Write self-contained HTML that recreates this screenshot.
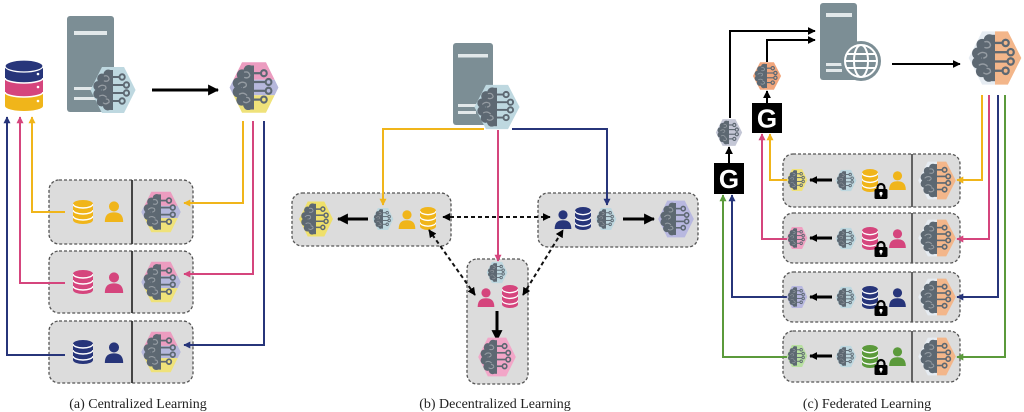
<!DOCTYPE html>
<html><head><meta charset="utf-8"><style>
html,body{margin:0;padding:0;background:#fff;}
svg{display:block;}
</style></head><body>
<svg width="1024" height="412" viewBox="0 0 1024 412" xmlns="http://www.w3.org/2000/svg" xmlns:xlink="http://www.w3.org/1999/xlink">
<defs>
<symbol id="fg" viewBox="0 0 100 100">
<g fill="#5d6872">
<circle cx="40" cy="19" r="10"/><circle cx="27" cy="27" r="10"/><circle cx="19" cy="42" r="10"/>
<circle cx="19" cy="58" r="10"/><circle cx="26" cy="73" r="10"/><circle cx="39" cy="81" r="10"/>
<rect x="26" y="20" width="24" height="62"/><rect x="44" y="10" width="6" height="80"/>
</g>
<g fill="none" stroke="#fff" stroke-opacity="0.35" stroke-width="2.5" stroke-linecap="round">
<path d="M32,22 q8,-2 10,6 q-2,6 -10,4"/><path d="M20,44 q6,-6 14,-2 q4,6 -4,8"/>
<path d="M22,62 q8,-4 14,2"/><path d="M30,76 q6,4 12,-2 q0,-6 -6,-6"/>
</g>
<g fill="none" stroke="#5d6872" stroke-width="4">
<path d="M50,24 H63"/><circle cx="69" cy="24" r="5.5"/>
<path d="M50,40 H72"/><circle cx="78" cy="40" r="5.5"/>
<path d="M50,56 H72"/><circle cx="78" cy="56" r="5.5"/>
<path d="M50,72 H63"/><circle cx="69" cy="72" r="5.5"/>
</g>
</symbol>
<symbol id="person" viewBox="0 0 24 24">
<circle cx="12" cy="7" r="5.5" fill="currentColor"/>
<path d="M2,24 C2,16 6,13.5 12,13.5 C18,13.5 22,16 22,24 Z" fill="currentColor"/>
</symbol>
<symbol id="db" viewBox="0 0 20 24" preserveAspectRatio="none">
<ellipse cx="10" cy="4" rx="10" ry="4" fill="currentColor"/>
<rect x="0" y="4" width="20" height="16" fill="currentColor"/>
<ellipse cx="10" cy="20" rx="10" ry="4" fill="currentColor"/>
<g fill="none" stroke="#fff" stroke-width="1.4">
<path d="M0,4 A10,4 0 0 0 20,4"/><path d="M0,10 A10,4 0 0 0 20,10"/><path d="M0,16 A10,4 0 0 0 20,16"/>
</g>
</symbol>
<symbol id="lock" viewBox="0 0 14 17">
<path d="M3.5,8 V5.5 A3.5,3.5 0 0 1 10.5,5.5 V8" fill="none" stroke="#000" stroke-width="2.2"/>
<rect x="0.5" y="7" width="13" height="10" rx="1.5" fill="#000"/>
<circle cx="7" cy="11.5" r="1.6" fill="#fff"/><rect x="6.3" y="11.5" width="1.4" height="3" fill="#fff"/>
</symbol>
<marker id="mN" viewBox="0 0 10 10" refX="9" refY="5" markerWidth="7" markerHeight="7" markerUnits="userSpaceOnUse" orient="auto-start-reverse"><path d="M0,0 L10,5 L0,10 Z" fill="#27357a"/></marker>
<marker id="mP" viewBox="0 0 10 10" refX="9" refY="5" markerWidth="7" markerHeight="7" markerUnits="userSpaceOnUse" orient="auto-start-reverse"><path d="M0,0 L10,5 L0,10 Z" fill="#d5457d"/></marker>
<marker id="mY" viewBox="0 0 10 10" refX="9" refY="5" markerWidth="7" markerHeight="7" markerUnits="userSpaceOnUse" orient="auto-start-reverse"><path d="M0,0 L10,5 L0,10 Z" fill="#f0b51a"/></marker>
<marker id="mG" viewBox="0 0 10 10" refX="9" refY="5" markerWidth="7" markerHeight="7" markerUnits="userSpaceOnUse" orient="auto-start-reverse"><path d="M0,0 L10,5 L0,10 Z" fill="#5b9a3b"/></marker>
<marker id="mK" viewBox="0 0 10 10" refX="9" refY="5" markerWidth="8" markerHeight="8" markerUnits="userSpaceOnUse" orient="auto-start-reverse"><path d="M0,0 L10,5 L0,10 Z" fill="#000"/></marker>
<marker id="mKb" viewBox="0 0 10 10" refX="9" refY="5" markerWidth="11" markerHeight="11" markerUnits="userSpaceOnUse" orient="auto-start-reverse"><path d="M0,0 L10,5 L0,10 Z" fill="#000"/></marker>
</defs>

<!-- ============ (a) Centralized ============ -->
<g>
<path d="M5,93 V106 A19,5 0 0 0 43,106 V93 Z" fill="#f0b51a"/>
<ellipse cx="24" cy="92" rx="19" ry="5" fill="#d5457d" stroke="#fff" stroke-width="1.5"/>
<rect x="5" y="78" width="38" height="14" fill="#d5457d"/>
<ellipse cx="24" cy="78" rx="19" ry="5" fill="#27357a" stroke="#fff" stroke-width="1.5"/>
<rect x="5" y="66" width="38" height="12" fill="#27357a"/>
<ellipse cx="24" cy="66" rx="19" ry="6" fill="#27357a" stroke="#fff" stroke-width="1.2"/>
<circle cx="38" cy="74" r="1.3" fill="#fff"/><circle cx="38" cy="87" r="1.3" fill="#fff"/><circle cx="38" cy="101" r="1.3" fill="#fff"/>
</g>
<rect x="67" y="16" width="47" height="96" rx="3" fill="#7c8e95"/>
<rect x="74" y="31" width="33" height="4" fill="#e2e8ea"/>
<rect x="74" y="87" width="22" height="3" fill="#e2e8ea"/>
<rect x="74" y="97" width="22" height="3" fill="#e2e8ea"/>
<svg x="89" y="65" width="48" height="50" viewBox="0 0 100 100" preserveAspectRatio="none"><polygon points="27,4 73,4 97,50 73,96 27,96 3,50" fill="#bed8e0"/><use xlink:href="#fg" width="100" height="100"/></svg>
<path d="M152,90 H218" stroke="#000" stroke-width="3" marker-end="url(#mKb)"/>
<svg x="228" y="60" width="52" height="55" viewBox="0 0 100 100" preserveAspectRatio="none">
<polygon points="27,4 73,4 89.7,36 10.3,36" fill="#ec9cc0"/>
<polygon points="10.3,36 89.7,36 97,50 89.7,64 10.3,64 3,50" fill="#b6b8dc"/>
<polygon points="10.3,64 89.7,64 73,96 27,96" fill="#efe27a"/>
<use xlink:href="#fg" width="100" height="100"/></svg>

<g fill="#dcdcdc" stroke="#555" stroke-width="1.3" stroke-dasharray="3,2">
<rect x="49" y="180" width="144" height="64" rx="10"/>
<rect x="49" y="251" width="144" height="62" rx="10"/>
<rect x="49" y="321" width="144" height="62" rx="10"/>
</g>
<g stroke="#333" stroke-width="1.8">
<line x1="132" y1="180" x2="132" y2="244"/><line x1="132" y1="251" x2="132" y2="313"/><line x1="132" y1="321" x2="132" y2="383"/>
</g>
<use xlink:href="#db" x="73" y="200" width="20" height="24" style="color:#f0b51a"/>
<use xlink:href="#person" x="103" y="199" width="22" height="24" style="color:#f0b51a"/>
<use xlink:href="#db" x="73" y="270" width="20" height="24" style="color:#d5457d"/>
<use xlink:href="#person" x="103" y="270" width="22" height="24" style="color:#d5457d"/>
<use xlink:href="#db" x="73" y="340" width="20" height="24" style="color:#27357a"/>
<use xlink:href="#person" x="103" y="340" width="22" height="24" style="color:#27357a"/>
<g>
<svg x="140" y="190" width="42" height="44" viewBox="0 0 100 100" preserveAspectRatio="none"><polygon points="27,4 73,4 89.7,36 10.3,36" fill="#ec9cc0"/><polygon points="10.3,36 89.7,36 97,50 89.7,64 10.3,64 3,50" fill="#b6b8dc"/><polygon points="10.3,64 89.7,64 73,96 27,96" fill="#efe27a"/><use xlink:href="#fg" width="100" height="100"/></svg>
<svg x="140" y="260" width="42" height="44" viewBox="0 0 100 100" preserveAspectRatio="none"><polygon points="27,4 73,4 89.7,36 10.3,36" fill="#ec9cc0"/><polygon points="10.3,36 89.7,36 97,50 89.7,64 10.3,64 3,50" fill="#b6b8dc"/><polygon points="10.3,64 89.7,64 73,96 27,96" fill="#efe27a"/><use xlink:href="#fg" width="100" height="100"/></svg>
<svg x="140" y="330" width="42" height="44" viewBox="0 0 100 100" preserveAspectRatio="none"><polygon points="27,4 73,4 89.7,36 10.3,36" fill="#ec9cc0"/><polygon points="10.3,36 89.7,36 97,50 89.7,64 10.3,64 3,50" fill="#b6b8dc"/><polygon points="10.3,64 89.7,64 73,96 27,96" fill="#efe27a"/><use xlink:href="#fg" width="100" height="100"/></svg>
</g>
<g fill="none" stroke-width="2">
<path d="M65,355 H7 V117" stroke="#27357a" marker-end="url(#mN)"/>
<path d="M65,283 H20 V117" stroke="#d5457d" marker-end="url(#mP)"/>
<path d="M65,212 H32 V117" stroke="#f0b51a" marker-end="url(#mY)"/>
<path d="M243,121 V203 H184" stroke="#f0b51a" marker-end="url(#mY)"/>
<path d="M253,121 V274 H184" stroke="#d5457d" marker-end="url(#mP)"/>
<path d="M264,121 V345 H184" stroke="#27357a" marker-end="url(#mN)"/>
</g>
<text x="138" y="408" text-anchor="middle" font-family="Liberation Serif, serif" font-size="14" fill="#222">(a) Centralized Learning</text>

<!-- ============ (b) Decentralized ============ -->
<rect x="453" y="43" width="40" height="82" rx="3" fill="#7c8e95"/>
<rect x="458" y="54" width="30" height="3.5" fill="#e2e8ea"/>
<rect x="458" y="104" width="18" height="3" fill="#e2e8ea"/>
<rect x="458" y="111" width="18" height="3" fill="#e2e8ea"/>
<svg x="473" y="83" width="48" height="48" viewBox="0 0 100 100" preserveAspectRatio="none"><polygon points="27,4 73,4 97,50 73,96 27,96 3,50" fill="#bed8e0"/><use xlink:href="#fg" width="100" height="100"/></svg>

<g fill="#dcdcdc" stroke="#555" stroke-width="1.3" stroke-dasharray="3,2">
<rect x="292" y="193" width="159" height="53" rx="10"/>
<rect x="538" y="193" width="160" height="54" rx="10"/>
<rect x="467" y="259" width="61" height="125" rx="10"/>
</g>
<g fill="none" stroke-width="2">
<path d="M484,129 H383 V205" stroke="#f0b51a" marker-end="url(#mY)"/>
<path d="M512,129 H607 V205" stroke="#27357a" marker-end="url(#mN)"/>
<path d="M498,130 V261" stroke="#d5457d" marker-end="url(#mP)"/>
</g>
<svg x="298" y="200" width="36" height="38" viewBox="0 0 100 100" preserveAspectRatio="none"><polygon points="27,4 73,4 97,50 73,96 27,96 3,50" fill="#efe06a"/><use xlink:href="#fg" width="100" height="100"/></svg>
<path d="M368,219 H338" stroke="#000" stroke-width="3" marker-end="url(#mKb)"/>
<svg x="372" y="207" width="22" height="24" viewBox="0 0 100 100" preserveAspectRatio="none"><polygon points="27,4 73,4 97,50 73,96 27,96 3,50" fill="#bed8e0"/><use xlink:href="#fg" width="100" height="100"/></svg>
<use xlink:href="#person" x="397" y="208" width="20" height="22" style="color:#f0b51a"/>
<use xlink:href="#db" x="420" y="207" width="16" height="23" style="color:#f0b51a"/>
<use xlink:href="#person" x="553" y="208" width="20" height="22" style="color:#27357a"/>
<use xlink:href="#db" x="575" y="207" width="16" height="23" style="color:#27357a"/>
<svg x="595" y="207" width="22" height="24" viewBox="0 0 100 100" preserveAspectRatio="none"><polygon points="27,4 73,4 97,50 73,96 27,96 3,50" fill="#bed8e0"/><use xlink:href="#fg" width="100" height="100"/></svg>
<path d="M623,219 H654" stroke="#000" stroke-width="3" marker-end="url(#mKb)"/>
<svg x="657" y="199" width="38" height="40" viewBox="0 0 100 100" preserveAspectRatio="none"><polygon points="27,4 73,4 97,50 73,96 27,96 3,50" fill="#b8b8e0"/><use xlink:href="#fg" width="100" height="100"/></svg>
<svg x="486" y="261" width="22" height="23" viewBox="0 0 100 100" preserveAspectRatio="none"><polygon points="27,4 73,4 97,50 73,96 27,96 3,50" fill="#bed8e0"/><use xlink:href="#fg" width="100" height="100"/></svg>
<use xlink:href="#person" x="476" y="286" width="20" height="22" style="color:#d5457d"/>
<use xlink:href="#db" x="502" y="285" width="16" height="23" style="color:#d5457d"/>
<path d="M497,311 V340" stroke="#000" stroke-width="3" marker-end="url(#mKb)"/>
<svg x="477" y="336" width="40" height="42" viewBox="0 0 100 100" preserveAspectRatio="none"><polygon points="27,4 73,4 97,50 73,96 27,96 3,50" fill="#f2a6c8"/><use xlink:href="#fg" width="100" height="100"/></svg>
<g fill="none" stroke="#111" stroke-width="2" stroke-dasharray="4,3">
<path d="M443,217 H550" marker-start="url(#mK)" marker-end="url(#mK)"/>
<path d="M475,295 L429,230" marker-start="url(#mK)" marker-end="url(#mK)"/>
<path d="M523,295 L563,230" marker-start="url(#mK)" marker-end="url(#mK)"/>
</g>
<text x="495" y="408" text-anchor="middle" font-family="Liberation Serif, serif" font-size="14" fill="#222">(b) Decentralized Learning</text>

<!-- ============ (c) Federated ============ -->
<rect x="820" y="3" width="37" height="77" rx="3" fill="#7c8e95"/>
<rect x="826" y="13" width="26" height="4" fill="#e2e8ea"/>
<rect x="826" y="63" width="16" height="3" fill="#e2e8ea"/>
<rect x="826" y="69" width="16" height="3" fill="#e2e8ea"/>
<circle cx="861" cy="61" r="20" fill="#7c8e95"/>
<g fill="none" stroke="#fff" stroke-width="2">
<circle cx="861" cy="61" r="16"/>
<ellipse cx="861" cy="61" rx="7" ry="16"/>
<line x1="845" y1="61" x2="877" y2="61"/>
<line x1="847" y1="54" x2="875" y2="54"/>
<line x1="847" y1="68" x2="875" y2="68"/>
</g>
<path d="M892,64 H960" stroke="#000" stroke-width="2" marker-end="url(#mK)"/>
<svg x="967" y="29" width="56" height="58" viewBox="0 0 100 100" preserveAspectRatio="none"><polygon points="27,4 50,4 50,96 27,96 3,50" fill="#e6ecf2"/><polygon points="50,4 73,4 97,50 73,96 50,96" fill="#f3b68a"/><use xlink:href="#fg" width="100" height="100"/></svg>

<g fill="none" stroke="#000" stroke-width="2">
<path d="M730,118 V31 H815" marker-end="url(#mK)"/>
<path d="M767,62 V40 H815" marker-end="url(#mK)"/>
<path d="M767,103 V91" marker-end="url(#mK)"/>
<path d="M729,163 V147" marker-end="url(#mK)"/>
</g>
<svg x="752" y="61" width="30" height="30" viewBox="0 0 100 100" preserveAspectRatio="none"><polygon points="27,4 73,4 97,50 73,96 27,96 3,50" fill="#f2a67c"/><use xlink:href="#fg" width="100" height="100"/></svg>
<svg x="715" y="118" width="28" height="29" viewBox="0 0 100 100" preserveAspectRatio="none"><polygon points="27,4 73,4 97,50 73,96 27,96 3,50" fill="#c4c7d6"/><use xlink:href="#fg" width="100" height="100"/></svg>
<rect x="752" y="103" width="30" height="30" fill="#000"/>
<text x="767" y="127.5" text-anchor="middle" font-family="Liberation Sans, sans-serif" font-weight="bold" font-size="26" fill="#fff">G</text>
<rect x="714" y="163" width="30" height="31" fill="#000"/>
<text x="729" y="188" text-anchor="middle" font-family="Liberation Sans, sans-serif" font-weight="bold" font-size="26" fill="#fff">G</text>

<g fill="#dcdcdc" stroke="#555" stroke-width="1.3" stroke-dasharray="3,2">
<rect x="783" y="154" width="177" height="53" rx="10"/>
<rect x="783" y="213" width="177" height="50" rx="10"/>
<rect x="783" y="272" width="177" height="50" rx="10"/>
<rect x="783" y="331" width="177" height="51" rx="10"/>
</g>
<g stroke="#555" stroke-width="1.8">
<line x1="912" y1="154" x2="912" y2="207"/><line x1="912" y1="213" x2="912" y2="263"/>
<line x1="912" y1="272" x2="912" y2="322"/><line x1="912" y1="331" x2="912" y2="382"/>
</g>
<g fill="none" stroke-width="2">
<path d="M787,180 H770 V134" stroke="#f0b51a" marker-end="url(#mY)"/>
<path d="M787,239 H762 V134" stroke="#d5457d" marker-end="url(#mP)"/>
<path d="M787,297 H732 V195" stroke="#27357a" marker-end="url(#mN)"/>
<path d="M787,357 H723 V195" stroke="#5b9a3b" marker-end="url(#mG)"/>
<path d="M982,95 V180 H957" stroke="#f0b51a" marker-end="url(#mY)"/>
<path d="M989,95 V239 H957" stroke="#d5457d" marker-end="url(#mP)"/>
<path d="M998,95 V297 H957" stroke="#27357a" marker-end="url(#mN)"/>
<path d="M1005,95 V357 H957" stroke="#5b9a3b" marker-end="url(#mG)"/>
</g>

<svg x="786" y="168" width="22" height="24" viewBox="0 0 100 100" preserveAspectRatio="none"><polygon points="27,4 73,4 97,50 73,96 27,96 3,50" fill="#f0e27a"/><use xlink:href="#fg" width="100" height="100"/></svg>
<path d="M832,180 H810" stroke="#000" stroke-width="3" marker-end="url(#mK)"/>
<svg x="835" y="169" width="22" height="23" viewBox="0 0 100 100" preserveAspectRatio="none"><polygon points="27,4 73,4 97,50 73,96 27,96 3,50" fill="#bed8e0"/><use xlink:href="#fg" width="100" height="100"/></svg>
<use xlink:href="#db" x="862" y="169" width="16" height="23" style="color:#f0b51a"/>
<use xlink:href="#person" x="887" y="170" width="21" height="20" style="color:#f0b51a"/>
<use xlink:href="#lock" x="874" y="182" width="14" height="17"/>
<svg x="917" y="160" width="40" height="41" viewBox="0 0 100 100" preserveAspectRatio="none"><polygon points="27,4 50,4 50,96 27,96 3,50" fill="#e6ecf2"/><polygon points="50,4 73,4 97,50 73,96 50,96" fill="#f3b68a"/><use xlink:href="#fg" width="100" height="100"/></svg>

<svg x="786" y="226" width="22" height="24" viewBox="0 0 100 100" preserveAspectRatio="none"><polygon points="27,4 73,4 97,50 73,96 27,96 3,50" fill="#f0a0c2"/><use xlink:href="#fg" width="100" height="100"/></svg>
<path d="M832,238 H810" stroke="#000" stroke-width="3" marker-end="url(#mK)"/>
<svg x="835" y="227" width="22" height="23" viewBox="0 0 100 100" preserveAspectRatio="none"><polygon points="27,4 73,4 97,50 73,96 27,96 3,50" fill="#bed8e0"/><use xlink:href="#fg" width="100" height="100"/></svg>
<use xlink:href="#db" x="862" y="227" width="16" height="23" style="color:#d5457d"/>
<use xlink:href="#person" x="887" y="228" width="21" height="20" style="color:#d5457d"/>
<use xlink:href="#lock" x="874" y="240" width="14" height="17"/>
<svg x="917" y="218" width="40" height="40" viewBox="0 0 100 100" preserveAspectRatio="none"><polygon points="27,4 50,4 50,96 27,96 3,50" fill="#e6ecf2"/><polygon points="50,4 73,4 97,50 73,96 50,96" fill="#f3b68a"/><use xlink:href="#fg" width="100" height="100"/></svg>

<svg x="786" y="285" width="22" height="24" viewBox="0 0 100 100" preserveAspectRatio="none"><polygon points="27,4 73,4 97,50 73,96 27,96 3,50" fill="#b8b8e0"/><use xlink:href="#fg" width="100" height="100"/></svg>
<path d="M832,297 H810" stroke="#000" stroke-width="3" marker-end="url(#mK)"/>
<svg x="835" y="286" width="22" height="23" viewBox="0 0 100 100" preserveAspectRatio="none"><polygon points="27,4 73,4 97,50 73,96 27,96 3,50" fill="#bed8e0"/><use xlink:href="#fg" width="100" height="100"/></svg>
<use xlink:href="#db" x="862" y="286" width="16" height="23" style="color:#27357a"/>
<use xlink:href="#person" x="887" y="287" width="21" height="20" style="color:#27357a"/>
<use xlink:href="#lock" x="874" y="299" width="14" height="17"/>
<svg x="917" y="277" width="40" height="40" viewBox="0 0 100 100" preserveAspectRatio="none"><polygon points="27,4 50,4 50,96 27,96 3,50" fill="#e6ecf2"/><polygon points="50,4 73,4 97,50 73,96 50,96" fill="#f3b68a"/><use xlink:href="#fg" width="100" height="100"/></svg>

<svg x="786" y="344" width="22" height="24" viewBox="0 0 100 100" preserveAspectRatio="none"><polygon points="27,4 73,4 97,50 73,96 27,96 3,50" fill="#b8e0a0"/><use xlink:href="#fg" width="100" height="100"/></svg>
<path d="M832,356 H810" stroke="#000" stroke-width="3" marker-end="url(#mK)"/>
<svg x="835" y="345" width="22" height="23" viewBox="0 0 100 100" preserveAspectRatio="none"><polygon points="27,4 73,4 97,50 73,96 27,96 3,50" fill="#bed8e0"/><use xlink:href="#fg" width="100" height="100"/></svg>
<use xlink:href="#db" x="862" y="345" width="16" height="23" style="color:#5b9a3b"/>
<use xlink:href="#person" x="887" y="346" width="21" height="20" style="color:#5b9a3b"/>
<use xlink:href="#lock" x="874" y="358" width="14" height="17"/>
<svg x="917" y="336" width="40" height="41" viewBox="0 0 100 100" preserveAspectRatio="none"><polygon points="27,4 50,4 50,96 27,96 3,50" fill="#e6ecf2"/><polygon points="50,4 73,4 97,50 73,96 50,96" fill="#f3b68a"/><use xlink:href="#fg" width="100" height="100"/></svg>

<text x="867" y="408" text-anchor="middle" font-family="Liberation Serif, serif" font-size="14" fill="#222">(c) Federated Learning</text>
</svg>
</body></html>
